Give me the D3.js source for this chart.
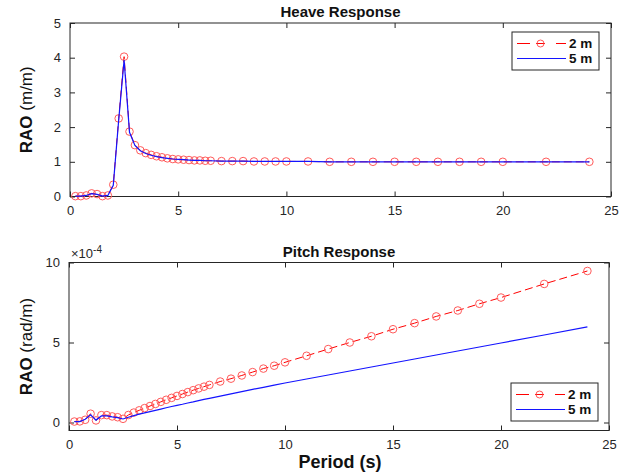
<!DOCTYPE html>
<html>
<head>
<meta charset="utf-8">
<script src="https://cdn.jsdelivr.net/npm/d3@7"></script>
<style>
  body { margin: 0; background: #fff; }
  text { font-family: "Liberation Sans", Arial, Helvetica, sans-serif; }
</style>
</head>
<body>
<div id="chart"></div>
<script>
// period (s)
var period = [0.25, 0.5, 0.75, 1.0, 1.25, 1.5, 1.75, 2.0, 2.25, 2.5, 2.75, 3.0, 3.25, 3.5, 3.75,
    4.0, 4.25, 4.5, 4.75, 5.0, 5.25, 5.5, 5.75, 6.0, 6.25, 6.5,
    7, 7.5, 8, 8.5, 9, 9.5, 10, 11, 12, 13, 14, 15, 16, 17, 18, 19, 20, 22, 24];

// heave RAO (m/m)
var heave2m = [0.01, 0.01, 0.03, 0.09, 0.07, 0.01, 0.03, 0.34, 2.25, 4.03, 1.87, 1.48, 1.33, 1.25, 1.2,
    1.16, 1.13, 1.1, 1.08, 1.07, 1.06, 1.05, 1.04, 1.04, 1.03, 1.03,
    1.02, 1.02, 1.02, 1.01, 1.01, 1.01, 1.01, 1.01, 1.0, 1.0, 1.0, 1.0, 1.0, 1.0, 1.0, 1.0, 1.0, 1.0, 1.0];
var heave5m = [0.01, 0.01, 0.03, 0.08, 0.06, 0.01, 0.03, 0.32, 2.2, 3.93, 1.85, 1.47, 1.32, 1.24, 1.19,
    1.15, 1.12, 1.1, 1.08, 1.07, 1.06, 1.05, 1.04, 1.04, 1.03, 1.03,
    1.02, 1.02, 1.02, 1.01, 1.01, 1.01, 1.01, 1.01, 1.0, 1.0, 1.0, 1.0, 1.0, 1.0, 1.0, 1.0, 1.0, 1.0, 1.0];

// pitch RAO (rad/m), in units of 1e-4
var pitch2m = [0.06, 0.07, 0.17, 0.55, 0.13, 0.46, 0.46, 0.38, 0.33, 0.23, 0.47, 0.62, 0.76, 0.9, 1.03,
    1.16, 1.29, 1.42, 1.54, 1.66, 1.78, 1.9, 2.02, 2.13, 2.24, 2.35,
    2.56, 2.74, 2.94, 3.15, 3.37, 3.55, 3.76, 4.17, 4.59, 5.0, 5.39, 5.83, 6.21, 6.63, 7.0, 7.42, 7.81, 8.66, 9.47];
var pitch5m = [0.05, 0.06, 0.2, 0.48, 0.15, 0.41, 0.41, 0.35, 0.3, 0.22, 0.33, 0.43, 0.52, 0.6, 0.68,
    0.76, 0.84, 0.92, 1.0, 1.07, 1.14, 1.22, 1.29, 1.37, 1.44, 1.51,
    1.65, 1.79, 1.93, 2.07, 2.2, 2.34, 2.47, 2.72, 2.97, 3.22, 3.47, 3.72, 3.97, 4.22, 4.47, 4.72, 4.97, 5.47, 5.98];

var xTicks = [0, 5, 10, 15, 20, 25];
var heaveTicks = [0, 1, 2, 3, 4, 5];
var pitchTicks = [0, 5, 10];
var seriesNames = ["2 m", "5 m"];

var W = 637, H = 474;
var axisColor = "#262626";

var svg = d3.select("#chart").append("svg")
    .attr("width", W)
    .attr("height", H);

function drawPanel(opts) {
    var x = opts.x, y = opts.y;
    var g = svg.append("g");
    var x0 = x.range()[0], x1 = x.range()[1];
    var y0 = y.range()[0], y1 = y.range()[1];
    var fmt = d3.format("d");

    // bottom axis with labels
    var bx = g.append("g")
        .attr("transform", "translate(0," + y0 + ")")
        .call(d3.axisBottom(x).tickValues(xTicks).tickFormat(fmt).tickSizeInner(-5).tickSizeOuter(0).tickPadding(9));
    // top axis, ticks only
    var tx = g.append("g")
        .attr("transform", "translate(0," + y1 + ")")
        .call(d3.axisTop(x).tickValues(xTicks).tickSizeInner(-5).tickSizeOuter(0).tickFormat(""));
    var ly = g.append("g")
        .attr("transform", "translate(" + x0 + ",0)")
        .call(d3.axisLeft(y).tickValues(opts.yTicks).tickFormat(fmt).tickSizeInner(-5).tickSizeOuter(0).tickPadding(9));
    var ry = g.append("g")
        .attr("transform", "translate(" + x1 + ",0)")
        .call(d3.axisRight(y).tickValues(opts.yTicks).tickSizeInner(-5).tickSizeOuter(0).tickFormat(""));

    [bx, tx, ly, ry].forEach(function(a) {
        a.select(".domain").remove();
        a.selectAll(".tick line").attr("stroke", axisColor);
        a.selectAll(".tick text")
            .attr("fill", axisColor)
            .style("font-size", "13px")
            .style("font-family", "'Liberation Sans', Arial, sans-serif");
    });

    // box
    g.append("rect")
        .attr("x", x0).attr("y", y1)
        .attr("width", x1 - x0).attr("height", y0 - y1)
        .attr("fill", "none")
        .attr("stroke", axisColor)
        .attr("stroke-width", 1);

    var line2 = d3.line()
        .x(function(d, i) { return x(period[i]); })
        .y(function(d) { return y(d); });

    g.append("path")
        .datum(opts.s2)
        .attr("fill", "none")
        .attr("stroke", "#ff0000")
        .attr("stroke-width", 1)
        .attr("stroke-dasharray", "8,4")
        .attr("d", line2);

    g.selectAll("circle.m")
        .data(opts.s2)
        .enter()
        .append("circle")
        .attr("class", "m")
        .attr("cx", function(d, i) { return x(period[i]); })
        .attr("cy", function(d) { return y(d); })
        .attr("r", 3.8)
        .attr("fill", "none")
        .attr("stroke", "#ff5a5a")
        .attr("stroke-width", 1);

    g.append("path")
        .datum(opts.s5)
        .attr("fill", "none")
        .attr("stroke", "#1414ff")
        .attr("stroke-width", 1.2)
        .attr("d", line2);

    // title
    g.append("text")
        .attr("x", (x0 + x1) / 2)
        .attr("y", y1 - 6)
        .attr("text-anchor", "middle")
        .style("font-size", "15px")
        .style("font-weight", "bold")
        .attr("fill", "#111")
        .text(opts.title);

    // y label
    var yl = g.append("text")
        .attr("transform", "translate(" + opts.ylabX + "," + ((y0 + y1) / 2) + ") rotate(-90)")
        .attr("text-anchor", "middle")
        .style("font-size", "17px")
        .attr("fill", "#111");
    yl.append("tspan").style("font-weight", "bold").text("RAO");
    yl.append("tspan").text(" " + opts.unit);

    // legend
    var lg = g.append("g").attr("transform", "translate(" + opts.legX + "," + opts.legY + ")");
    lg.append("rect")
        .attr("width", 87).attr("height", 38)
        .attr("fill", "#fff")
        .attr("stroke", axisColor);
    lg.selectAll("line.dash")
        .data([[5, 18], [24, 33], [44, 54]])
        .enter()
        .append("line")
        .attr("class", "dash")
        .attr("x1", function(d) { return d[0]; })
        .attr("x2", function(d) { return d[1]; })
        .attr("y1", 11.5).attr("y2", 11.5)
        .attr("stroke", "#ff0000");
    lg.append("circle")
        .attr("cx", 28.5).attr("cy", 11.5).attr("r", 3.5)
        .attr("fill", "none").attr("stroke", "#ff5a5a");
    lg.append("line")
        .attr("x1", 5).attr("x2", 54).attr("y1", 26.5).attr("y2", 26.5)
        .attr("stroke", "#1414ff").attr("stroke-width", 1.2);
    lg.selectAll("text.leg")
        .data(seriesNames)
        .enter()
        .append("text")
        .attr("class", "leg")
        .attr("x", 57)
        .attr("y", function(d, i) { return 16 + i * 15; })
        .style("font-size", "13.5px")
        .style("font-weight", "bold")
        .attr("fill", "#111")
        .text(function(d) { return d; });

    return g;
}

var xTop = d3.scaleLinear().domain([0, 25]).range([70, 611]);
var yTop = d3.scaleLinear().domain([0, 5]).range([196.5, 23]);
drawPanel({
    x: xTop, y: yTop, yTicks: heaveTicks,
    s2: heave2m, s5: heave5m,
    title: "Heave Response", unit: "(m/m)",
    ylabX: 32, legX: 512, legY: 32
});

var xBot = d3.scaleLinear().domain([0, 25]).range([69, 609]);
var yBot = d3.scaleLinear().domain([-0.5, 10]).range([430.5, 262.5]);
var gb = drawPanel({
    x: xBot, y: yBot, yTicks: pitchTicks,
    s2: pitch2m, s5: pitch5m,
    title: "Pitch Response", unit: "(rad/m)",
    ylabX: 32, legX: 511, legY: 383
});

// exponent label
var ex = gb.append("text")
    .attr("x", 71)
    .attr("y", 258)
    .style("font-size", "13px")
    .attr("fill", axisColor);
ex.append("tspan").text("\u00d710");
ex.append("tspan").attr("dy", -5).style("font-size", "10px").text("-4");

// x label
svg.append("text")
    .attr("x", 340)
    .attr("y", 468)
    .attr("text-anchor", "middle")
    .style("font-size", "18px")
    .style("font-weight", "bold")
    .attr("fill", "#111")
    .text("Period (s)");
</script>
</body>
</html>
